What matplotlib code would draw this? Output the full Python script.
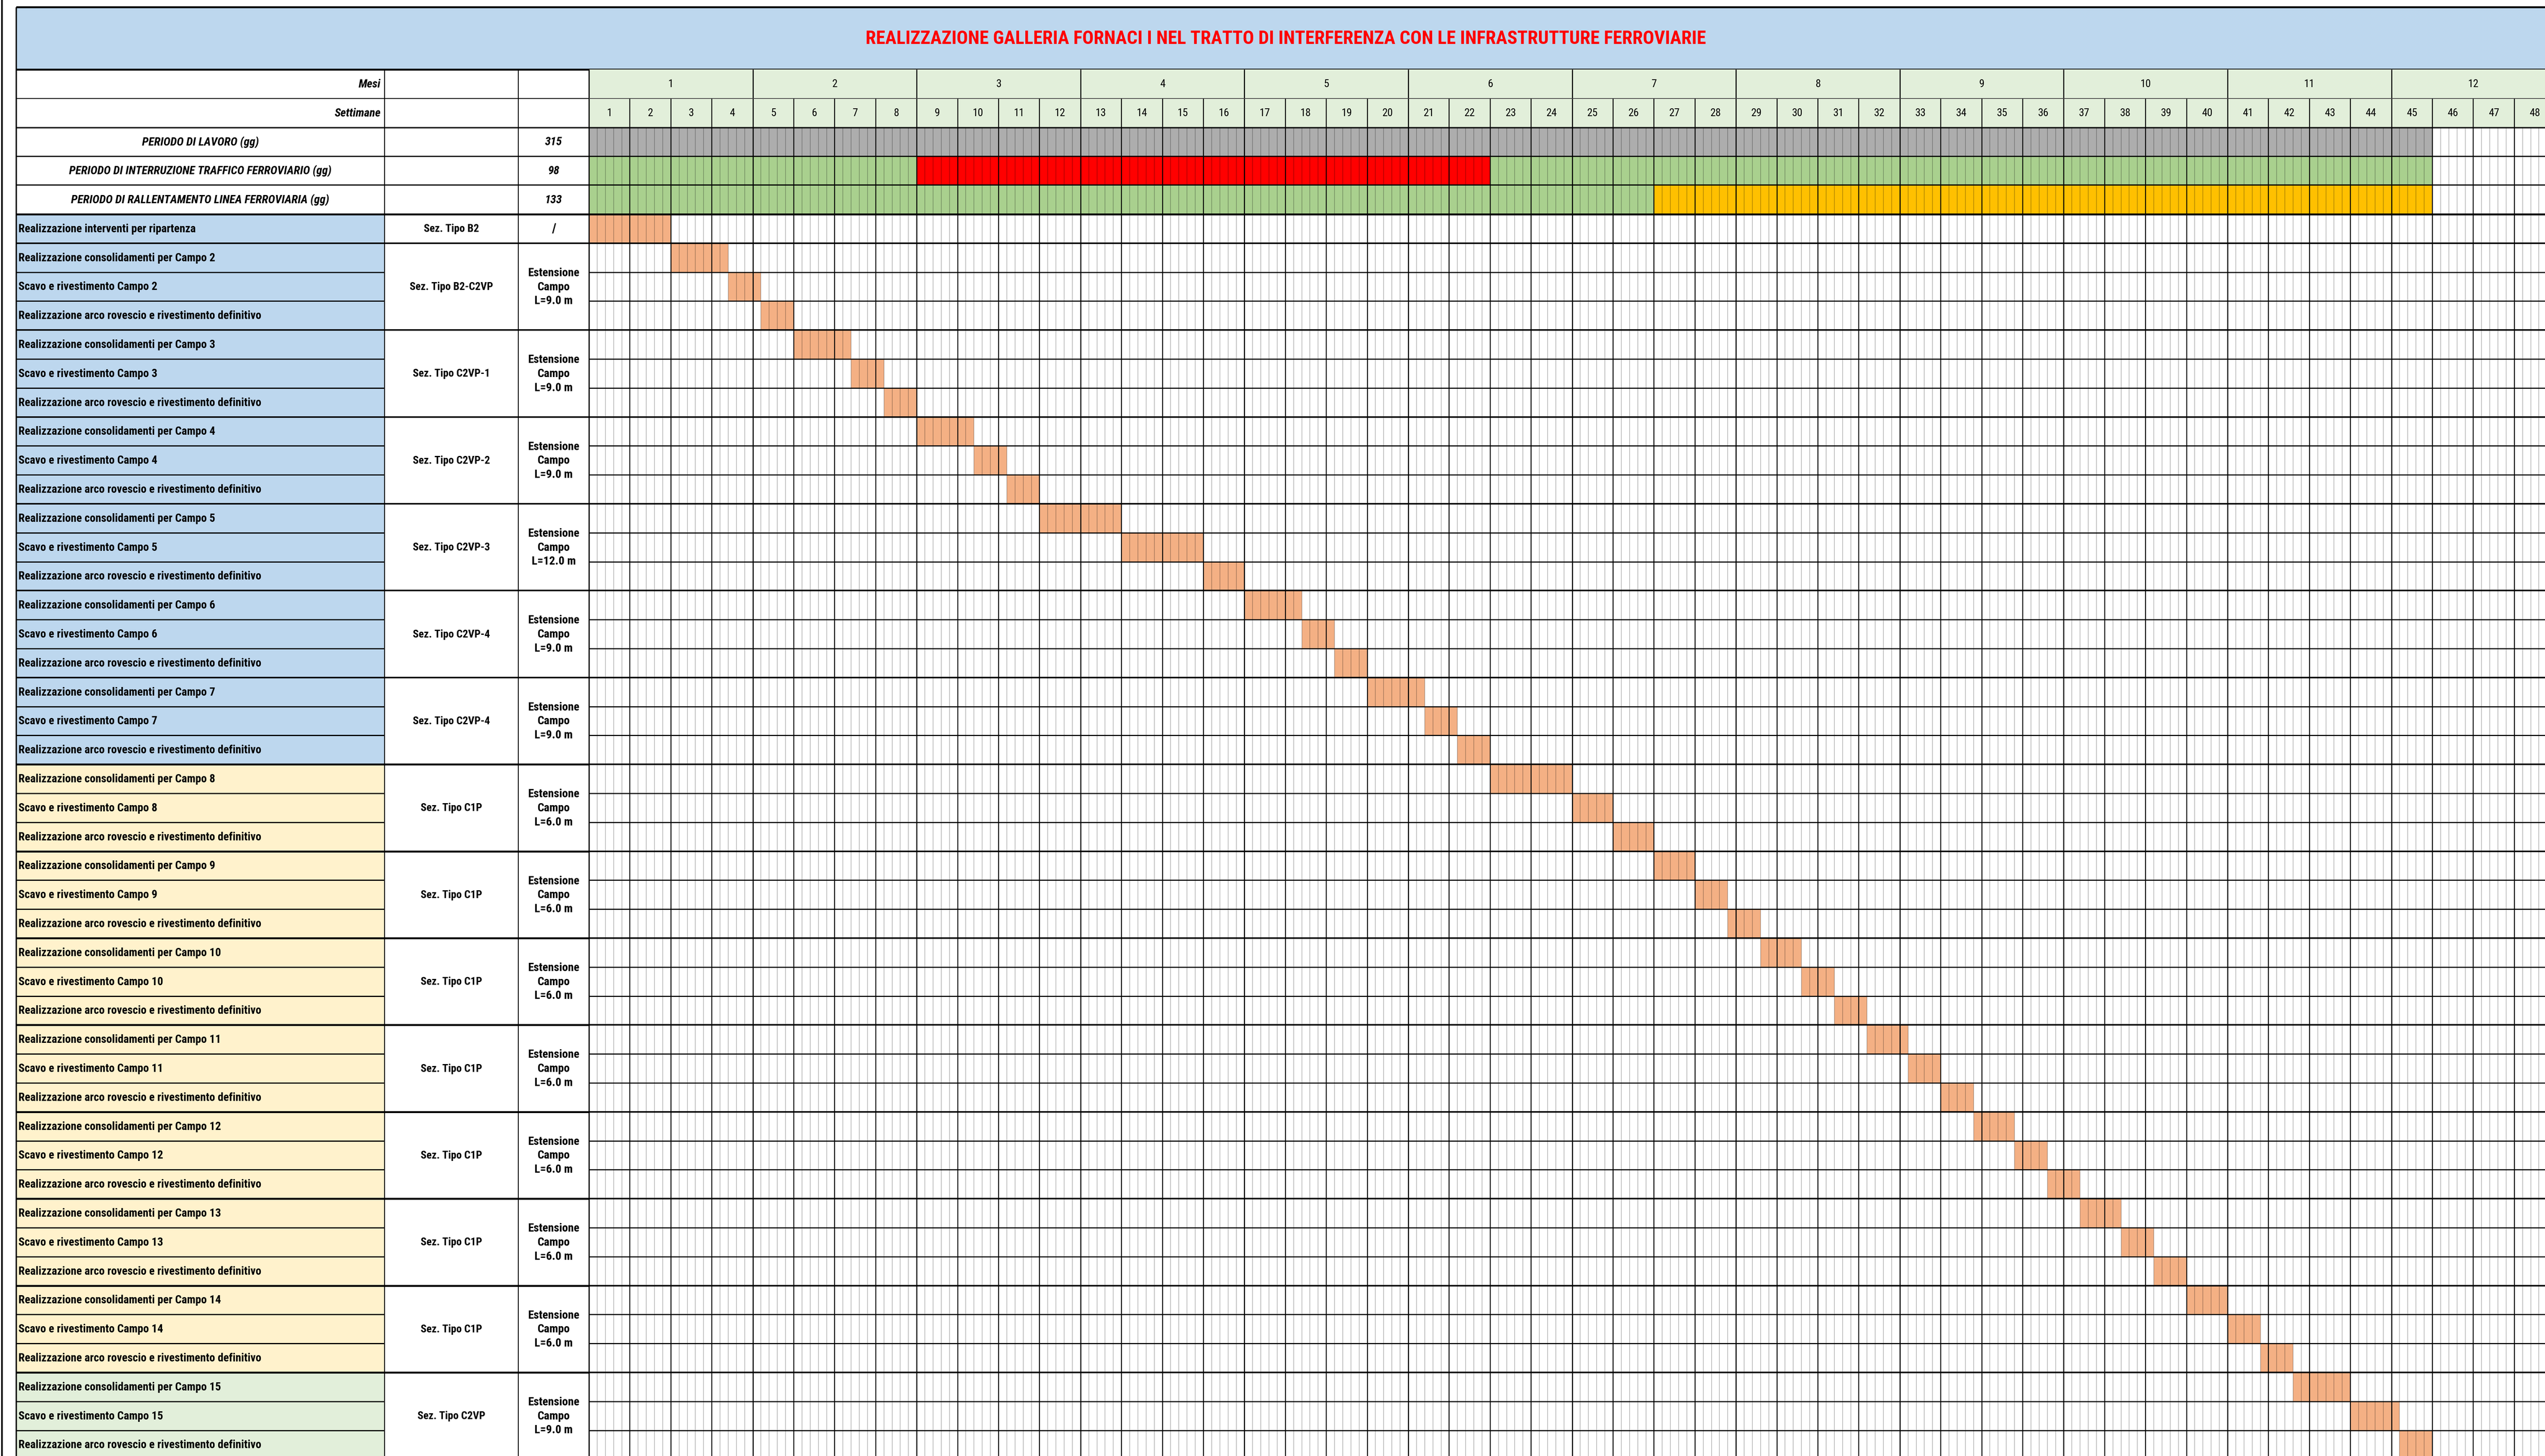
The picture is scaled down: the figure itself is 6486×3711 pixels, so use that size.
import matplotlib
matplotlib.use('Agg')
import matplotlib.pyplot as plt
from matplotlib.patches import Rectangle
from matplotlib import font_manager as fm

avail = {f.name for f in fm.fontManager.ttflist}
FONT = next((f for f in ['Liberation Sans Narrow', 'Roboto Condensed', 'Open Sans Condensed', 'Liberation Sans']
             if f in avail), 'DejaVu Sans')
plt.rcParams['font.family'] = [FONT, 'DejaVu Sans']

# ---------------------------------------------------------------- data
title = "REALIZZAZIONE GALLERIA FORNACI I NEL TRATTO DI INTERFERENZA CON LE INFRASTRUTTURE FERROVIARIE"
months = [str(m) for m in range(1, 13)]
weeks = [str(w) for w in range(1, 49)]
weeks_per_month = 4
days_per_week = 5

summary_labels = ["PERIODO DI LAVORO (gg)",
                  "PERIODO DI INTERRUZIONE TRAFFICO FERROVIARIO (gg)",
                  "PERIODO DI RALLENTAMENTO LINEA FERROVIARIA (gg)"]
summary_values = ["315", "98", "133"]

lavoro_start = [0]
lavoro_dur = [225]
lavoro_kind = ["lavoro"]
interr_start = [0, 40, 110]
interr_dur = [40, 70, 115]
interr_kind = ["regolare", "interruzione", "regolare"]
rall_start = [0, 130]
rall_dur = [130, 95]
rall_kind = ["regolare", "rallentamento"]

task_names = ["Realizzazione interventi per ripartenza"]
for c in range(2, 16):
    task_names += [f"Realizzazione consolidamenti per Campo {c}",
                   f"Scavo e rivestimento Campo {c}",
                   "Realizzazione arco rovescio e rivestimento definitivo"]

task_start = [0,
              10, 17, 21,
              25, 32, 36,
              40, 47, 51,
              55, 65, 75,
              80, 87, 91,
              95, 102, 106,
              110, 120, 125,
              130, 135, 139,
              143, 148, 152,
              156, 161, 165,
              169, 174, 178,
              182, 187, 191,
              195, 200, 204,
              208, 215, 221]
task_dur = [10,
            7, 4, 4,
            7, 4, 4,
            7, 4, 4,
            10, 10, 5,
            7, 4, 4,
            7, 4, 4,
            10, 5, 5,
            5, 4, 4,
            5, 4, 4,
            5, 4, 4,
            5, 4, 4,
            5, 4, 4,
            5, 4, 4,
            7, 6, 4]

group_rows = [1] + [3] * 14
group_sez = ["Sez. Tipo B2", "Sez. Tipo B2-C2VP", "Sez. Tipo C2VP-1", "Sez. Tipo C2VP-2",
             "Sez. Tipo C2VP-3", "Sez. Tipo C2VP-4", "Sez. Tipo C2VP-4"] + \
            ["Sez. Tipo C1P"] * 7 + ["Sez. Tipo C2VP"]
group_len = ["/", "L=9.0 m", "L=9.0 m", "L=9.0 m", "L=12.0 m", "L=9.0 m", "L=9.0 m"] + \
            ["L=6.0 m"] * 7 + ["L=9.0 m"]
group_zone = ["a"] * 7 + ["b"] * 7 + ["c"]

# ---------------------------------------------------------------- styles
C_TITLE_BG = '#BDD7EE'
C_HDR = '#E2EFDA'
KIND_COL = {"lavoro": '#ADADAD', "regolare": '#A9D08E',
            "interruzione": '#FF0000', "rallentamento": '#FFC000'}
C_BAR = '#F4B084'
ZONE_COL = {"a": '#BDD7EE', "b": '#FFF2CC', "c": '#E2EFDA'}

W, H = 6486, 3712
X0, X1, X2, X3 = 41, 980, 1321, 1501
DAY = 104.4 / days_per_week
Y_T0, Y_T1 = 19, 178
Y_HDR = [178, 252, 326, 399, 472, 547]
RH = 73.8
n_tasks = len(task_names)
FS = 21
FS_SUM = 21.5
FS_NUM = 20
FS_SEZ = 20
FS_EXT = 21.5

fig = plt.figure(figsize=(W / 100, H / 100), dpi=100)
fig.patch.set_facecolor('white')

# ---------------------------------------------------------------- base axes (table)
ax = fig.add_axes([0, 0, 1, 1])
ax.set_xlim(0, W)
ax.set_ylim(H, 0)
ax.axis('off')

# outer line
ax.vlines(5, 0, H, color='black', lw=3)
# title band
ax.add_patch(Rectangle((X0, Y_T0), W - X0, Y_T1 - Y_T0, facecolor=C_TITLE_BG, edgecolor='none'))
ax.hlines([Y_T0, Y_T1], X0, W, color='black', lw=3.5)
n_week_total = len(weeks)
title_cx = (X0 + X3 + n_week_total * days_per_week * DAY) / 2
ax.text(title_cx, (Y_T0 + Y_T1) / 2, title, color='#FF0000', fontsize=34.5, fontweight='bold',
        ha='center', va='center')

# header rows left part
ax.text(X1 - 10, (Y_HDR[0] + Y_HDR[1]) / 2, "Mesi", fontsize=FS_SUM, fontweight='bold', style='italic',
        ha='right', va='center')
ax.text(X1 - 10, (Y_HDR[1] + Y_HDR[2]) / 2, "Settimane", fontsize=FS_SUM, fontweight='bold', style='italic',
        ha='right', va='center')
for k, (lab, val) in enumerate(zip(summary_labels, summary_values)):
    yc = (Y_HDR[2 + k] + Y_HDR[3 + k]) / 2
    ax.text((X0 + X1) / 2, yc, lab, fontsize=FS_SUM, fontweight='bold', style='italic', ha='center', va='center')
    ax.text((X2 + X3) / 2, yc, val, fontsize=FS_SUM, fontweight='bold', style='italic', ha='center', va='center')
ax.hlines(Y_HDR[1:], X0, X3, color='black', lw=[1.6, 2.5, 2.2, 2.2, 3.5])

# task rows left part
row = 0
for g, nr in enumerate(group_rows):
    top = Y_HDR[-1] + row * RH
    bot = top + nr * RH
    for r in range(nr):
        t = top + r * RH
        ax.add_patch(Rectangle((X0, t), X1 - X0, RH, facecolor=ZONE_COL[group_zone[g]], edgecolor='none'))
        ax.text(X0 + 6, t + RH / 2, task_names[row + r], fontsize=FS, fontweight='bold',
                ha='left', va='center')
        if r > 0:
            ax.hlines(t, X0, X1, color='black', lw=2.2)
    yc = (top + bot) / 2
    ax.text((X1 + X2) / 2, yc, group_sez[g], fontsize=FS_SEZ, fontweight='bold', ha='center', va='center')
    if group_len[g] == "/":
        ax.text((X2 + X3) / 2, yc, "/", fontsize=FS_EXT + 2, fontweight='bold', ha='center', va='center')
    else:
        ax.text((X2 + X3) / 2, yc, "Estensione\nCampo\n" + group_len[g], fontsize=FS_EXT, fontweight='bold',
                ha='center', va='center', linespacing=1.35)
    ax.hlines(bot, X0, X3, color='black', lw=2.8 if g < 6 else 3.5)
    row += nr

ax.vlines(X0, Y_T0, H, color='black', lw=2.5)
ax.vlines([X1, X2], Y_T1, H, color='black', lw=1.6)
ax.vlines(X3, Y_T1, H, color='black', lw=2.2)

# ---------------------------------------------------------------- gantt axes
gx = fig.add_axes([X3 / W, 0, (W - X3) / W, (H - Y_T1) / H])
n_vis = (W - X3) / DAY
gx.set_xlim(0, n_vis)
gx.set_ylim(H, Y_T1)
gx.axis('off')

n_days = n_week_total * days_per_week
# header band
gx.barh((Y_HDR[0] + Y_HDR[2]) / 2, n_days, left=0, height=Y_HDR[2] - Y_HDR[0], color=C_HDR, lw=0)
for m, lab in enumerate(months):
    cx = (m + 0.5) * weeks_per_month * days_per_week
    gx.text(cx, (Y_HDR[0] + Y_HDR[1]) / 2, lab, fontsize=FS_NUM, ha='center', va='center')
for w, lab in enumerate(weeks):
    cx = (w + 0.5) * days_per_week
    gx.text(cx, (Y_HDR[1] + Y_HDR[2]) / 2, lab, fontsize=FS_NUM, ha='center', va='center')

# summary rows
for k, (st, du, kd) in enumerate([(lavoro_start, lavoro_dur, lavoro_kind),
                                  (interr_start, interr_dur, interr_kind),
                                  (rall_start, rall_dur, rall_kind)]):
    yc = (Y_HDR[2 + k] + Y_HDR[3 + k]) / 2
    hh = Y_HDR[3 + k] - Y_HDR[2 + k]
    gx.barh([yc] * len(st), du, left=st, height=hh, color=[KIND_COL[x] for x in kd], lw=0)

# task bars
task_y = [Y_HDR[-1] + (i + 0.5) * RH for i in range(n_tasks)]
gx.barh(task_y, task_dur, left=task_start, height=RH, color=C_BAR, lw=0)

# grid: day sub-lines
sub = [d for d in range(n_days + 1) if d % days_per_week != 0]
gx.vlines(sub, Y_HDR[2], H, color='black', alpha=0.3, lw=1.2)
wk = [d for d in range(0, n_days + 1, days_per_week) if d % (days_per_week * weeks_per_month) != 0]
gx.vlines(wk, Y_HDR[1], H, color='black', lw=1.7)
mo = list(range(0, n_days + 1, days_per_week * weeks_per_month))
gx.vlines(mo, Y_HDR[0], H, color='black', lw=1.9)

# horizontal lines
gx.hlines(Y_HDR[1], 0, n_vis, color='#444444', lw=1.4)
gx.hlines(Y_HDR[2:], 0, n_vis, color='black', lw=[2.5, 2.2, 2.2, 3.5])
acc = 0
gb = set()
for nr in group_rows:
    acc += nr
    gb.add(acc)
for i in range(1, n_tasks + 1):
    y = Y_HDR[-1] + i * RH
    gx.hlines(y, 0, n_vis, color='black', lw=2.8 if i in gb else 2.0)

fig.savefig('out.png', dpi=100, facecolor='white')
